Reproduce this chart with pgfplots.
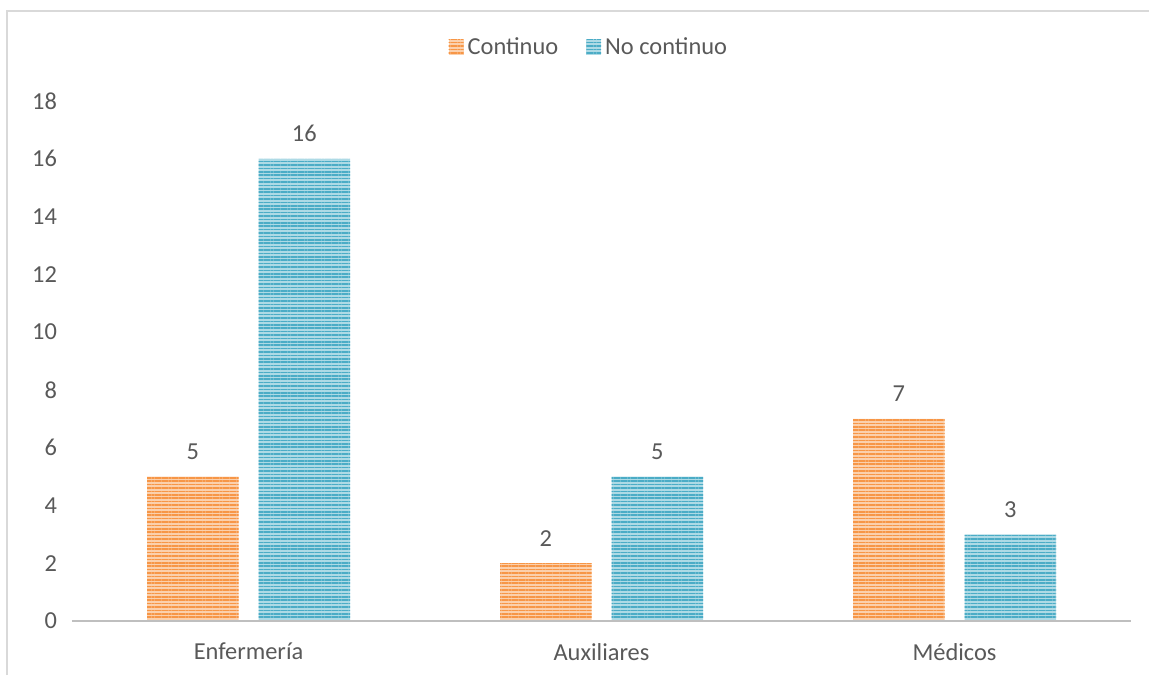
\documentclass[border=0pt]{standalone}
\usepackage{pgfplots}
\pgfplotsset{compat=1.18}
\usetikzlibrary{patterns.meta}
\usepackage{fontspec}
\setmainfont{Carlito}
\definecolor{corange}{HTML}{F79646}
\definecolor{cblue}{HTML}{4BACC6}
\definecolor{txt}{HTML}{595959}
\definecolor{axgray}{HTML}{BFBFBF}
\definecolor{frame}{HTML}{D9D9D9}

\pgfplotstableread{
x cont nocont
0 5 16
1 2 5
2 7 3
}\datatable

\begin{document}
\begin{tikzpicture}
\path[use as bounding box] (-36pt,-27pt) rectangle (538.5pt,310.5pt);
\draw[frame, line width=0.8pt] (-32.5pt,-27pt) -- (-32.5pt,305pt) -- (538.5pt,305pt);
\begin{axis}[
  scale only axis,
  width=529.5pt, height=260pt,
  ybar, bar width=45.75pt,
  xmin=-0.5, xmax=2.5,
  ymin=0, ymax=18,
  ytick={0,2,...,18},
  xtick=data,
  xticklabels={Enfermería,Auxiliares,Médicos},
  axis y line*=left,
  axis x line*=bottom,
  y axis line style={draw=none},
  x axis line style={draw=none},
  major tick length=0pt,
  tick label style={font=\fontsize{12.2}{14}\selectfont, text=txt},
  /pgf/number format/assume math mode=true,
  yticklabel style={xshift=-4pt},
  xticklabel style={yshift=-7.5pt},
  nodes near coords,
  every node near coord/.append style={font=\fontsize{12.2}{14}\selectfont, text=txt, yshift=5pt},
  legend style={at={(0.489,1.102)}, anchor=center, draw=none, fill=none,
    legend columns=2, font=\fontsize{12.2}{14}\selectfont, text=txt,
    /tikz/every even column/.append style={column sep=12pt}},
  legend image code/.code={\draw[#1, draw=none] (0pt,-3.5pt) rectangle (7.5pt,4pt);},
  clip=false,
]
\addplot[bar shift=-27.875pt, draw=none, fill=corange!45!white,
  postaction={pattern={Lines[angle=0,distance=1.7pt,line width=0.75pt]}, pattern color=corange}]
  table[x=x,y=cont]{\datatable};
\addlegendentry{Continuo}
\addplot[bar shift=27.875pt, draw=none, fill=cblue!45!white,
  postaction={pattern={Lines[angle=0,distance=1.7pt,line width=0.75pt]}, pattern color=cblue}]
  table[x=x,y=nocont]{\datatable};
\addlegendentry{No continuo}
\draw[axgray, line width=1.4pt] (axis cs:-0.5,0) -- (axis cs:2.5,0);
\end{axis}
\end{tikzpicture}
\end{document}
